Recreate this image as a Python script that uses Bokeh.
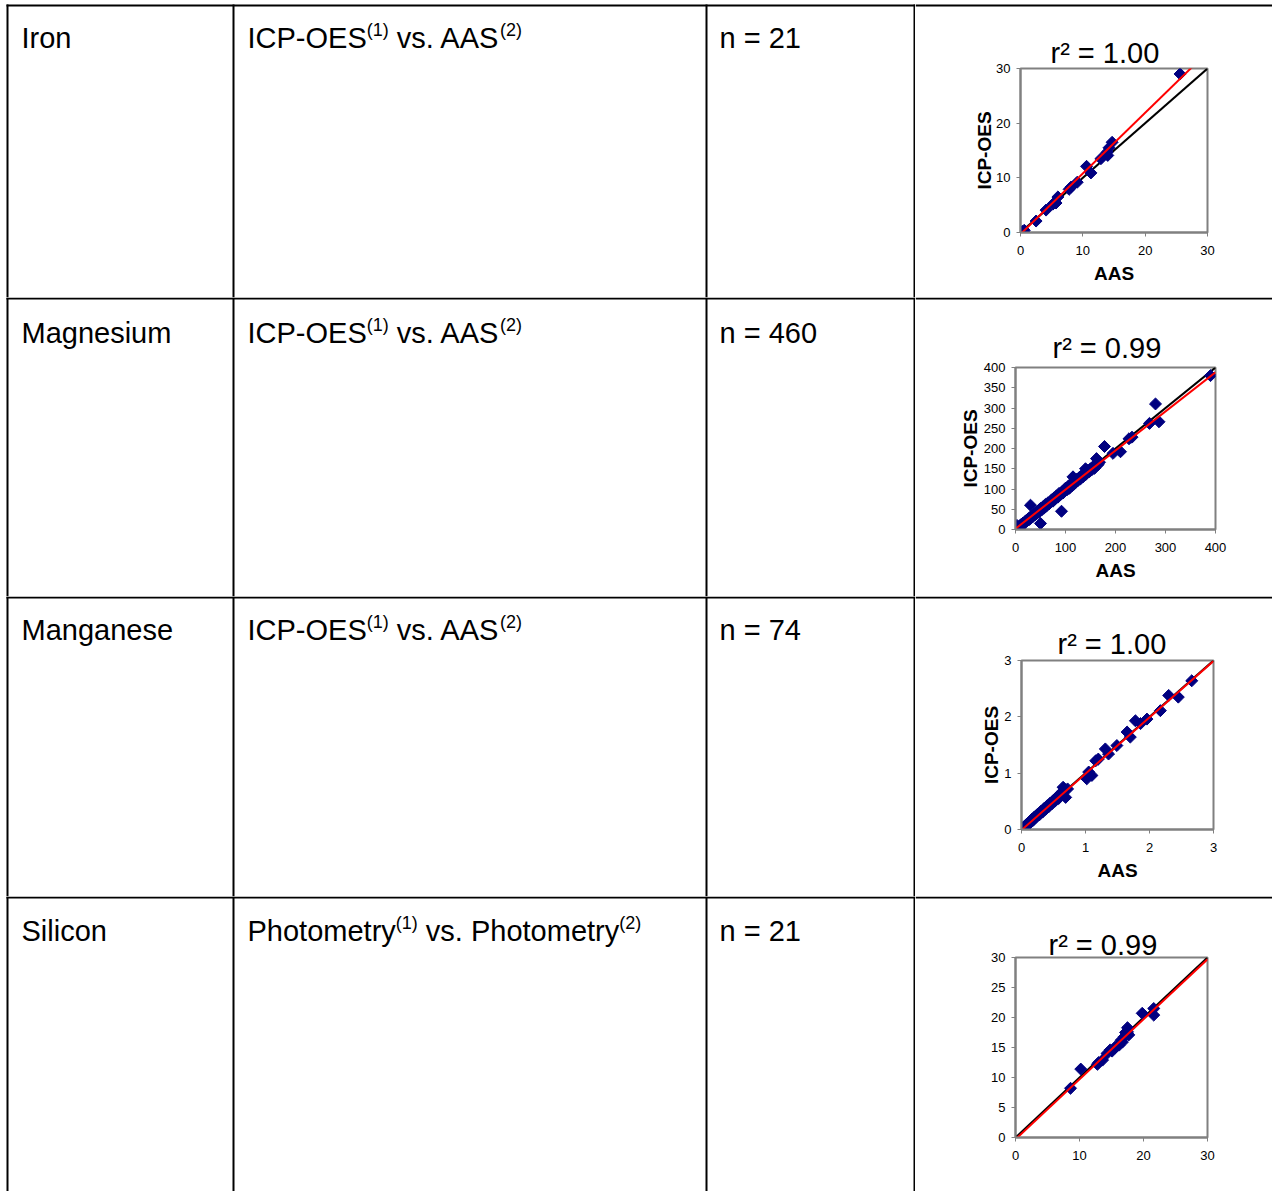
import math
from bokeh.plotting import figure
from bokeh.layouts import column, row
from bokeh.models import Range1d, FixedTicker, BoxAnnotation
from bokeh.core.properties import value
from bokeh.embed import file_html
from bokeh.resources import INLINE

FONT = "Liberation Sans"

# ---------------- table content ----------------
elements = ["Iron", "Magnesium", "Manganese", "Silicon"]
method_a = ["ICP-OES", "ICP-OES", "ICP-OES", "Photometry"]
method_b = ["AAS", "AAS", "AAS", "Photometry"]
n_values = [21, 460, 74, 21]
r2_values = ["1.00", "0.99", "1.00", "0.99"]

# ---------------- chart data ----------------
iron_aas = [0.1, 0.2, 0.3, 0.5, 0.6, 2.5, 4.1, 5.2, 5.7, 6.0, 7.8, 8.1, 9.1, 10.6, 11.3, 12.9, 13.9, 14.0, 14.2, 14.7, 25.6]
iron_icp = [0.1, 0.0, 0.2, 0.1, 0.4, 2.1, 4.1, 5.2, 5.4, 6.5, 7.9, 8.3, 9.2, 12.1, 10.9, 13.5, 14.7, 14.1, 15.5, 16.5, 29.0]
iron_fit = (1.11, -0.3)

mg_aas = [0.5, 1, 1.5, 2, 2.5, 3, 4, 5, 6, 7,
          8, 9, 10, 11, 12, 14, 15, 16, 18, 20,
          21, 23, 25, 27, 28, 30, 32, 34, 36, 38,
          40, 42, 44, 46, 48, 50, 53, 55, 58, 60,
          62, 65, 67, 70, 72, 75, 77, 80, 82, 85,
          87, 90, 93, 95, 98, 100, 103, 105, 108, 110,
          113, 115, 118, 120, 123, 125, 128, 130, 133, 135,
          138, 140, 143, 145, 148, 150, 153, 155, 158, 160,
          163, 165, 168, 30, 50, 92, 115, 140, 162, 178,
          195, 210, 227, 233, 268, 280, 287, 390, 3, 8]
mg_icp = [0.8, 0.5, 1.8, 1.5, 3, 2.2, 4.5, 4, 6.5, 6,
          7.5, 9.5, 9, 12, 11, 13, 16, 14, 17, 21,
          19, 22, 26, 24, 29, 27, 33, 31, 35, 39,
          37, 43, 41, 47, 44, 52, 49, 56, 54, 62,
          58, 66, 63, 68, 73, 70, 78, 76, 83, 80,
          89, 86, 93, 90, 97, 102, 98, 106, 102, 112,
          108, 117, 113, 119, 124, 121, 129, 125, 134, 130,
          139, 135, 141, 146, 143, 150, 148, 155, 151, 158,
          163, 160, 166, 60, 15, 45, 130, 150, 175, 205,
          188, 192, 224, 228, 262, 310, 266, 380, 10, 3]
mg_fit = (0.965, 2.0)

mn_aas = [0.01, 0.02, 0.03, 0.04, 0.05, 0.06, 0.08, 0.10, 0.12, 0.14,
          0.16, 0.18, 0.20, 0.22, 0.25, 0.28, 0.30, 0.33, 0.35, 0.38,
          0.40, 0.43, 0.45, 0.48, 0.50, 0.53, 0.55, 0.58, 0.60, 0.65,
          0.69, 0.72, 1.02, 1.05, 1.10, 1.16, 1.20, 1.31, 1.36, 1.49,
          1.65, 1.70, 1.78, 1.86, 1.96, 2.17, 2.30, 2.45, 2.66, 0.09]
mn_icp = [0.02, 0.01, 0.04, 0.03, 0.06, 0.05, 0.09, 0.11, 0.10, 0.15,
          0.18, 0.16, 0.22, 0.21, 0.27, 0.26, 0.32, 0.31, 0.37, 0.36,
          0.42, 0.41, 0.47, 0.46, 0.52, 0.51, 0.57, 0.55, 0.63, 0.75,
          0.57, 0.72, 0.90, 1.02, 0.96, 1.22, 1.25, 1.43, 1.34, 1.49,
          1.73, 1.64, 1.93, 1.88, 1.96, 2.11, 2.38, 2.35, 2.64, 0.08]
mn_fit = (1.0, -0.01)

si_ph1 = [8.6, 10.2, 12.8, 13.0, 13.6, 14.3, 14.8, 15.1, 15.5, 15.6, 16.2, 16.5, 16.7, 17.0, 17.2, 17.5, 17.5, 17.7, 19.8, 21.6, 21.6]
si_ph2 = [8.2, 11.4, 12.2, 12.5, 12.9, 14.0, 14.6, 14.4, 14.9, 15.1, 15.4, 16.2, 15.9, 16.8, 17.5, 17.6, 18.3, 17.1, 20.7, 21.5, 20.4]
si_fit = (1.0, -0.3)

iron_ticks = [0, 10, 20, 30]
mg_xticks = [0, 100, 200, 300, 400]
mg_yticks = [0, 50, 100, 150, 200, 250, 300, 350, 400]
mn_ticks = [0, 1, 2, 3]
si_xticks = [0, 10, 20, 30]
si_yticks = [0, 5, 10, 15, 20, 25, 30]

# ---------------- layout geometry (page pixels, origin at page top-left) ----------------
PAGE_W = 1272
A_W, B_W = 915, 357
row_tops = [0, 297, 596, 896]
row_hs = [297, 299, 300, 295]
border_y = [4, 0, 0, 0]          # local y of each row's top border
strip_hs = [24, 20, 20, 20]      # strip above the chart cell holding the top border
baselines = [48, 343, 640, 941]
vlines_x = [6, 232, 705, 913]

W = {'I': 278, 'C': 722, 'P': 667, '-': 333, 'O': 778, 'E': 667, 'S': 667, '(': 333, ')': 333,
     '1': 556, '2': 556, 'v': 500, 's': 500, '.': 278, 'A': 667, 'h': 556, 'o': 556, 't': 278,
     'm': 833, 'e': 556, 'r': 333, 'y': 500, ' ': 278}


def tw(s, size):
    return sum(W.get(c, 556) for c in s) * size / 1000.0


BIG, SUP = 29, 18
MID = 0.3465  # em-box middle above the baseline (Liberation Sans)


def plain_fig(w, h):
    p = figure(width=w, height=h, output_backend="svg", toolbar_location=None, title=None,
               x_axis_type=None, y_axis_type=None, min_border=0,
               x_range=Range1d(0, w), y_range=Range1d(h, 0))
    p.frame_align = False
    p.outline_line_color = None
    p.background_fill_color = "white"
    p.border_fill_color = "white"
    return p


def cell_fig(i):
    h = row_hs[i]
    top = row_tops[i]
    by0 = border_y[i]
    p = plain_fig(A_W, h)
    p.quad(left=vlines_x, right=[x + 2 for x in vlines_x],
           top=[by0] * 4, bottom=[h] * 4, color="black", line_width=0)
    p.quad(left=[vlines_x[0]], right=[A_W], top=[by0], bottom=[by0 + 2], color="black", line_width=0)
    by = baselines[i] - top - MID * BIG
    sy = baselines[i] - top - 12 - MID * SUP
    x_name = 21
    x0 = 247
    x1 = x0 + tw(method_a[i], BIG)
    x2 = x1 + tw("(1)", SUP)
    mid = "vs. " + method_b[i]
    x2t = x2 + tw(" ", BIG)
    x3 = x2t + tw(mid, BIG)
    x_n = 719
    big_kw = dict(text_font=value(FONT), text_font_size=f"{BIG}px", text_baseline="middle",
                  text_align="left", text_color="black")
    sup_kw = dict(text_font=value(FONT), text_font_size=f"{SUP}px", text_baseline="middle",
                  text_align="left", text_color="black")
    p.text(x=[x_name, x0, x2t, x_n], y=[by] * 4,
           text=[elements[i], method_a[i], mid, f"n = {n_values[i]}"], **big_kw)
    p.text(x=[x1, x3], y=[sy, sy], text=["(1)", "(2)"], **sup_kw)
    return p


def strip_fig(i):
    s = strip_hs[i]
    p = plain_fig(B_W, s)
    by0 = border_y[i]
    p.quad(left=[0], right=[B_W], top=[by0], bottom=[by0 + 2], color="black", line_width=0)
    return p


charts = [
    dict(x=iron_aas, y=iron_icp, lim=30, xt=iron_ticks, yt=iron_ticks, fit=iron_fit,
         frame=(1020, 1207, 68, 232), box=(967, 1218, 15, 290), xl="AAS", yl="ICP-OES",
         tleft=1050, tstand=-1, ylstand=-2),
    dict(x=mg_aas, y=mg_icp, lim=400, xt=mg_xticks, yt=mg_yticks, fit=mg_fit,
         frame=(1015, 1215, 367, 529), box=(956, 1229, 309, 588), xl="AAS", yl="ICP-OES",
         tleft=1052, tstand=8, ylstand=0),
    dict(x=mn_aas, y=mn_icp, lim=3, xt=mn_ticks, yt=mn_ticks, fit=mn_fit,
         frame=(1021, 1213, 660, 829), box=(966, 1218, 607, 886), xl="AAS", yl="ICP-OES",
         tleft=1057, tstand=1, ylstand=-1),
    dict(x=si_ph1, y=si_ph2, lim=30, xt=si_xticks, yt=si_yticks, fit=si_fit,
         frame=(1015, 1207, 957, 1137), box=(969, 1217, 908, 1200), xl=None, yl=None,
         tleft=1048, tstand=-7, ylstand=0),
]


def chart_fig(i):
    c = charts[i]
    top = row_tops[i] + strip_hs[i]
    h = row_hs[i] - strip_hs[i]
    fl, fr, ft, fb = c["frame"]
    lim = c["lim"]
    p = figure(width=B_W, height=h, output_backend="svg", toolbar_location=None,
               x_range=Range1d(0, lim), y_range=Range1d(0, lim),
               min_border_left=fl - A_W, min_border_right=PAGE_W - fr,
               min_border_top=ft - top, min_border_bottom=top + h - fb)
    p.frame_align = False
    p.grid.visible = False
    p.outline_line_color = "#808080"
    p.outline_line_width = 2
    p.background_fill_color = "white"
    p.border_fill_color = "white"
    p.xaxis.ticker = FixedTicker(ticks=c["xt"])
    p.yaxis.ticker = FixedTicker(ticks=c["yt"])
    for ax in (p.xaxis[0], p.yaxis[0]):
        ax.axis_line_color = "#808080"
        ax.axis_line_width = 2
        ax.major_tick_line_color = "#808080"
        ax.major_tick_out = 4
        ax.major_tick_in = 0
        ax.minor_tick_line_color = None
        ax.major_label_text_font = FONT
        ax.major_label_text_font_size = "13px"
        ax.major_label_text_color = "black"
        ax.axis_label_text_font = FONT
        ax.axis_label_text_font_size = "19px"
        ax.axis_label_text_font_style = "bold"
        ax.axis_label_text_color = "black"
    p.xaxis.major_label_standoff = 9
    p.yaxis.major_label_standoff = 6
    p.xaxis.axis_label_standoff = 5
    p.yaxis.axis_label_standoff = c["ylstand"]
    if c["xl"]:
        p.xaxis.axis_label = c["xl"]
    if c["yl"]:
        p.yaxis.axis_label = c["yl"]
    p.title.text = f"r\u00b2 = {r2_values[i]}"
    p.title.align = "left"
    p.title.offset = c["tleft"] - fl
    p.title.text_font = FONT
    p.title.text_font_size = "29px"
    p.title.text_font_style = "normal"
    p.title.text_color = "black"
    p.title.standoff = c["tstand"]

    # light grey chart-area border (outside the plot frame)
    bl, br, bt, bb = c["box"]
    p.add_layout(BoxAnnotation(left=bl - A_W, right=br - A_W, top=bt - top, bottom=min(bb - top, h - 1),
                               left_units="canvas", right_units="canvas",
                               top_units="canvas", bottom_units="canvas",
                               fill_alpha=0, line_color="#d0d0d0", line_alpha=1.0,
                               line_width=1, level="overlay"))

    p.line(x=[0, lim], y=[0, lim], line_color="black", line_width=2)
    p.scatter(x=c["x"], y=c["y"], marker="square", angle=math.pi / 4, size=8.5,
              fill_color="#000080", line_color="#000080")
    s, b = c["fit"]
    p.line(x=[0, lim], y=[b, s * lim + b], line_color="red", line_width=2)
    return p


rows = []
for i in range(4):
    rows.append(row(cell_fig(i), column(strip_fig(i), chart_fig(i))))

layout = column(*rows)

with open("out.html", "w") as f:
    f.write(file_html(layout, INLINE))
